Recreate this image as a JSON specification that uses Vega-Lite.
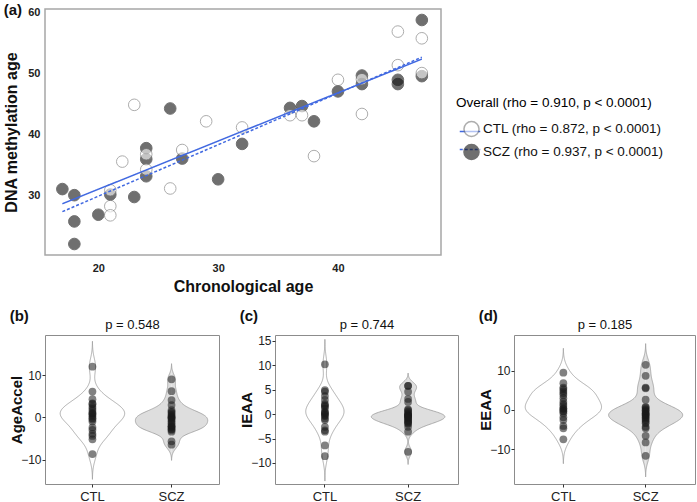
{
  "$schema": "https://vega.github.io/schema/vega-lite/v6.json",
  "padding": {"left": 3, "top": 2, "right": 0, "bottom": 0},
  "config": {
    "font": "Liberation Sans",
    "axis": {"labelColor": "#222222", "titleColor": "#111111", "grid": false},
    "title": {"color": "#111111"}
  },
  "datasets": {
    "scatter": [
      {"group": "SCZ", "age": 17, "dnam": 31.0}, {"group": "SCZ", "age": 18, "dnam": 30.0}, {"group": "SCZ", "age": 18, "dnam": 25.7}, {"group": "SCZ", "age": 18, "dnam": 22.0},
      {"group": "SCZ", "age": 20, "dnam": 26.8}, {"group": "SCZ", "age": 21, "dnam": 30.1}, {"group": "SCZ", "age": 23, "dnam": 29.7}, {"group": "SCZ", "age": 24, "dnam": 37.7},
      {"group": "SCZ", "age": 24, "dnam": 35.9}, {"group": "SCZ", "age": 24, "dnam": 33.1}, {"group": "SCZ", "age": 26, "dnam": 44.2}, {"group": "SCZ", "age": 27, "dnam": 36.0},
      {"group": "SCZ", "age": 30, "dnam": 32.6}, {"group": "SCZ", "age": 32, "dnam": 38.4}, {"group": "SCZ", "age": 36, "dnam": 44.3}, {"group": "SCZ", "age": 37, "dnam": 44.6},
      {"group": "SCZ", "age": 38, "dnam": 42.1}, {"group": "SCZ", "age": 40, "dnam": 47.0}, {"group": "SCZ", "age": 42, "dnam": 49.6}, {"group": "SCZ", "age": 42, "dnam": 48.2},
      {"group": "SCZ", "age": 45, "dnam": 48.9}, {"group": "SCZ", "age": 45, "dnam": 48.2}, {"group": "SCZ", "age": 47, "dnam": 58.7}, {"group": "SCZ", "age": 47, "dnam": 49.5},
      {"group": "CTL", "age": 21, "dnam": 28.2}, {"group": "CTL", "age": 21, "dnam": 26.7}, {"group": "CTL", "age": 21, "dnam": 30.8}, {"group": "CTL", "age": 22, "dnam": 35.5},
      {"group": "CTL", "age": 23, "dnam": 44.8}, {"group": "CTL", "age": 24, "dnam": 36.7}, {"group": "CTL", "age": 24, "dnam": 34.2}, {"group": "CTL", "age": 26, "dnam": 31.1},
      {"group": "CTL", "age": 27, "dnam": 37.4}, {"group": "CTL", "age": 29, "dnam": 42.1}, {"group": "CTL", "age": 32, "dnam": 41.1}, {"group": "CTL", "age": 36, "dnam": 43.1},
      {"group": "CTL", "age": 37, "dnam": 43.1}, {"group": "CTL", "age": 38, "dnam": 36.4}, {"group": "CTL", "age": 40, "dnam": 48.9}, {"group": "CTL", "age": 42, "dnam": 43.3},
      {"group": "CTL", "age": 42, "dnam": 49.0}, {"group": "CTL", "age": 45, "dnam": 56.8}, {"group": "CTL", "age": 45, "dnam": 51.3}, {"group": "CTL", "age": 47, "dnam": 55.7},
      {"group": "CTL", "age": 47, "dnam": 50.0}
    ],
    "fits": [
      {"fit": "CTL", "age": 17, "dnam": 28.6}, {"fit": "CTL", "age": 47, "dnam": 52.3},
      {"fit": "SCZ", "age": 17, "dnam": 27.3}, {"fit": "SCZ", "age": 47, "dnam": 52.6}
    ],
    "accel": [
      {"metric": "AgeAccel", "group": "CTL", "value": 12.0}, {"metric": "AgeAccel", "group": "CTL", "value": 6.1}, {"metric": "AgeAccel", "group": "CTL", "value": 4.3},
      {"metric": "AgeAccel", "group": "CTL", "value": 3.3}, {"metric": "AgeAccel", "group": "CTL", "value": 3.1}, {"metric": "AgeAccel", "group": "CTL", "value": 2.0},
      {"metric": "AgeAccel", "group": "CTL", "value": 1.5}, {"metric": "AgeAccel", "group": "CTL", "value": 0.9}, {"metric": "AgeAccel", "group": "CTL", "value": 0.6},
      {"metric": "AgeAccel", "group": "CTL", "value": 0.2}, {"metric": "AgeAccel", "group": "CTL", "value": -0.2}, {"metric": "AgeAccel", "group": "CTL", "value": -1.0},
      {"metric": "AgeAccel", "group": "CTL", "value": -2.4}, {"metric": "AgeAccel", "group": "CTL", "value": -3.0}, {"metric": "AgeAccel", "group": "CTL", "value": -3.9},
      {"metric": "AgeAccel", "group": "CTL", "value": -4.4}, {"metric": "AgeAccel", "group": "CTL", "value": -5.2}, {"metric": "AgeAccel", "group": "CTL", "value": -8.7},
      {"metric": "AgeAccel", "group": "CTL", "value": 1.0}, {"metric": "AgeAccel", "group": "CTL", "value": 2.5}, {"metric": "AgeAccel", "group": "CTL", "value": -0.5},
      {"metric": "AgeAccel", "group": "SCZ", "value": 9.0}, {"metric": "AgeAccel", "group": "SCZ", "value": 6.2}, {"metric": "AgeAccel", "group": "SCZ", "value": 4.1},
      {"metric": "AgeAccel", "group": "SCZ", "value": 2.9}, {"metric": "AgeAccel", "group": "SCZ", "value": 1.7}, {"metric": "AgeAccel", "group": "SCZ", "value": 1.3},
      {"metric": "AgeAccel", "group": "SCZ", "value": 0.6}, {"metric": "AgeAccel", "group": "SCZ", "value": 0.0}, {"metric": "AgeAccel", "group": "SCZ", "value": 0.0},
      {"metric": "AgeAccel", "group": "SCZ", "value": -0.6}, {"metric": "AgeAccel", "group": "SCZ", "value": -1.4}, {"metric": "AgeAccel", "group": "SCZ", "value": -2.2},
      {"metric": "AgeAccel", "group": "SCZ", "value": -2.2}, {"metric": "AgeAccel", "group": "SCZ", "value": -2.8}, {"metric": "AgeAccel", "group": "SCZ", "value": -3.0},
      {"metric": "AgeAccel", "group": "SCZ", "value": -3.4}, {"metric": "AgeAccel", "group": "SCZ", "value": -5.7}, {"metric": "AgeAccel", "group": "SCZ", "value": -6.5},
      {"metric": "AgeAccel", "group": "SCZ", "value": -1.0}, {"metric": "AgeAccel", "group": "SCZ", "value": 0.3}, {"metric": "AgeAccel", "group": "SCZ", "value": -2.5},
      {"metric": "AgeAccel", "group": "SCZ", "value": -0.3}, {"metric": "AgeAccel", "group": "SCZ", "value": 1.0}, {"metric": "AgeAccel", "group": "SCZ", "value": -1.8},
      {"metric": "IEAA", "group": "CTL", "value": 10.2}, {"metric": "IEAA", "group": "CTL", "value": 4.6}, {"metric": "IEAA", "group": "CTL", "value": 4.9},
      {"metric": "IEAA", "group": "CTL", "value": 3.7}, {"metric": "IEAA", "group": "CTL", "value": 2.9}, {"metric": "IEAA", "group": "CTL", "value": 2.1},
      {"metric": "IEAA", "group": "CTL", "value": 1.6}, {"metric": "IEAA", "group": "CTL", "value": 1.2}, {"metric": "IEAA", "group": "CTL", "value": 0.5},
      {"metric": "IEAA", "group": "CTL", "value": 0.1}, {"metric": "IEAA", "group": "CTL", "value": -0.4}, {"metric": "IEAA", "group": "CTL", "value": -0.9},
      {"metric": "IEAA", "group": "CTL", "value": -1.2}, {"metric": "IEAA", "group": "CTL", "value": -2.6}, {"metric": "IEAA", "group": "CTL", "value": -3.3},
      {"metric": "IEAA", "group": "CTL", "value": -3.6}, {"metric": "IEAA", "group": "CTL", "value": -6.4}, {"metric": "IEAA", "group": "CTL", "value": -8.6},
      {"metric": "IEAA", "group": "CTL", "value": 0.3}, {"metric": "IEAA", "group": "CTL", "value": -0.2}, {"metric": "IEAA", "group": "CTL", "value": 1.8},
      {"metric": "IEAA", "group": "SCZ", "value": 5.8}, {"metric": "IEAA", "group": "SCZ", "value": 5.8}, {"metric": "IEAA", "group": "SCZ", "value": 4.6},
      {"metric": "IEAA", "group": "SCZ", "value": 3.1}, {"metric": "IEAA", "group": "SCZ", "value": 2.5}, {"metric": "IEAA", "group": "SCZ", "value": 0.8},
      {"metric": "IEAA", "group": "SCZ", "value": 0.5}, {"metric": "IEAA", "group": "SCZ", "value": 0.0}, {"metric": "IEAA", "group": "SCZ", "value": -0.2},
      {"metric": "IEAA", "group": "SCZ", "value": -0.4}, {"metric": "IEAA", "group": "SCZ", "value": -0.7}, {"metric": "IEAA", "group": "SCZ", "value": -1.1},
      {"metric": "IEAA", "group": "SCZ", "value": -1.4}, {"metric": "IEAA", "group": "SCZ", "value": -1.8}, {"metric": "IEAA", "group": "SCZ", "value": -2.6},
      {"metric": "IEAA", "group": "SCZ", "value": -3.6}, {"metric": "IEAA", "group": "SCZ", "value": -7.7}, {"metric": "IEAA", "group": "SCZ", "value": -0.3},
      {"metric": "IEAA", "group": "SCZ", "value": 0.2}, {"metric": "IEAA", "group": "SCZ", "value": -0.9}, {"metric": "IEAA", "group": "SCZ", "value": -1.6},
      {"metric": "IEAA", "group": "SCZ", "value": 1.0}, {"metric": "IEAA", "group": "SCZ", "value": -0.5}, {"metric": "IEAA", "group": "SCZ", "value": -2.0},
      {"metric": "EEAA", "group": "CTL", "value": 9.5}, {"metric": "EEAA", "group": "CTL", "value": 6.8}, {"metric": "EEAA", "group": "CTL", "value": 5.7},
      {"metric": "EEAA", "group": "CTL", "value": 5.3}, {"metric": "EEAA", "group": "CTL", "value": 4.3}, {"metric": "EEAA", "group": "CTL", "value": 3.8},
      {"metric": "EEAA", "group": "CTL", "value": 3.0}, {"metric": "EEAA", "group": "CTL", "value": 2.1}, {"metric": "EEAA", "group": "CTL", "value": 1.0},
      {"metric": "EEAA", "group": "CTL", "value": 0.4}, {"metric": "EEAA", "group": "CTL", "value": 0.2}, {"metric": "EEAA", "group": "CTL", "value": -0.4},
      {"metric": "EEAA", "group": "CTL", "value": -0.9}, {"metric": "EEAA", "group": "CTL", "value": -1.9}, {"metric": "EEAA", "group": "CTL", "value": -2.6},
      {"metric": "EEAA", "group": "CTL", "value": -4.1}, {"metric": "EEAA", "group": "CTL", "value": -4.7}, {"metric": "EEAA", "group": "CTL", "value": -7.5},
      {"metric": "EEAA", "group": "CTL", "value": 1.5}, {"metric": "EEAA", "group": "CTL", "value": -0.2}, {"metric": "EEAA", "group": "CTL", "value": 4.8},
      {"metric": "EEAA", "group": "SCZ", "value": 11.5}, {"metric": "EEAA", "group": "SCZ", "value": 8.7}, {"metric": "EEAA", "group": "SCZ", "value": 5.5},
      {"metric": "EEAA", "group": "SCZ", "value": 5.7}, {"metric": "EEAA", "group": "SCZ", "value": 2.6}, {"metric": "EEAA", "group": "SCZ", "value": 0.6},
      {"metric": "EEAA", "group": "SCZ", "value": 0.2}, {"metric": "EEAA", "group": "SCZ", "value": -0.4}, {"metric": "EEAA", "group": "SCZ", "value": -0.9},
      {"metric": "EEAA", "group": "SCZ", "value": -1.5}, {"metric": "EEAA", "group": "SCZ", "value": -1.9}, {"metric": "EEAA", "group": "SCZ", "value": -2.6},
      {"metric": "EEAA", "group": "SCZ", "value": -3.4}, {"metric": "EEAA", "group": "SCZ", "value": -4.3}, {"metric": "EEAA", "group": "SCZ", "value": -4.7},
      {"metric": "EEAA", "group": "SCZ", "value": -6.6}, {"metric": "EEAA", "group": "SCZ", "value": -8.3}, {"metric": "EEAA", "group": "SCZ", "value": -11.7},
      {"metric": "EEAA", "group": "SCZ", "value": -1.0}, {"metric": "EEAA", "group": "SCZ", "value": 0.8}, {"metric": "EEAA", "group": "SCZ", "value": -2.2},
      {"metric": "EEAA", "group": "SCZ", "value": -3.0}, {"metric": "EEAA", "group": "SCZ", "value": -0.1}, {"metric": "EEAA", "group": "SCZ", "value": -1.3}
    ]
  },
  "columns": 1,
  "align": "none",
  "spacing": 13,
  "concat": [
    {
      "title": {"text": "(a)", "anchor": "start", "frame": "bounds", "fontSize": 15, "fontWeight": "bold", "offset": -12},
      "width": 396,
      "height": 246,
      "view": {"stroke": "#a6a6a6", "strokeWidth": 1.5},
      "encoding": {
        "x": {"field": "age", "type": "quantitative", "scale": {"domain": [15.55, 48.6], "nice": false, "zero": false},
              "axis": {"values": [20, 30, 40], "title": "Chronological age", "ticks": false, "domain": false, "labelFontWeight": "bold", "labelFontSize": 11, "labelPadding": 7, "titleFontSize": 16, "titleFontWeight": "bold", "titlePadding": 5}},
        "y": {"field": "dnam", "type": "quantitative", "scale": {"domain": [20.2, 60.5], "nice": false, "zero": false},
              "axis": {"values": [30, 40, 50, 60], "title": "DNA methylation age", "ticks": false, "domain": false, "labelFontWeight": "bold", "labelFontSize": 11, "labelPadding": 5, "titleFontSize": 16, "titleFontWeight": "bold", "titlePadding": 8}}
      },
      "layer": [
        {
          "data": {"name": "scatter"},
          "transform": [{"filter": "datum.group == 'SCZ'"}],
          "mark": {"type": "circle", "size": 135, "opacity": 0.6, "strokeWidth": 1},
          "encoding": {
            "fill": {"field": "group", "type": "nominal", "scale": {"domain": ["CTL", "SCZ"], "range": ["#ffffff", "#111111"]},
                     "legend": {"orient": "none", "legendX": 411, "legendY": 87, "title": "Overall (rho = 0.910, p < 0.0001)", "titleFontSize": 13.5, "titleFontWeight": "normal", "titlePadding": 11, "titleLimit": 400, "labelLimit": 400, "labelFontSize": 13.5, "labelColor": "#111111", "labelExpr": "datum.label == 'CTL' ? 'CTL (rho = 0.872, p < 0.0001)' : 'SCZ (rho = 0.937, p < 0.0001)'", "symbolSize": 227, "symbolOffset": 7, "labelOffset": 3, "rowPadding": 0, "padding": 0, "zindex": 2}},
            "stroke": {"field": "group", "type": "nominal", "scale": {"domain": ["CTL", "SCZ"], "range": ["#777777", "#111111"]},
                     "legend": {"orient": "none", "legendX": 411, "legendY": 87, "title": "Overall (rho = 0.910, p < 0.0001)", "titleFontSize": 13.5, "titleFontWeight": "normal", "titlePadding": 11, "titleLimit": 400, "labelLimit": 400, "labelFontSize": 13.5, "labelColor": "#111111", "labelExpr": "datum.label == 'CTL' ? 'CTL (rho = 0.872, p < 0.0001)' : 'SCZ (rho = 0.937, p < 0.0001)'", "symbolSize": 227, "symbolOffset": 7, "labelOffset": 3, "rowPadding": 0, "padding": 0, "zindex": 2}}
          }
        },
        {
          "data": {"name": "scatter"},
          "transform": [{"filter": "datum.group == 'CTL'"}],
          "mark": {"type": "circle", "size": 135, "opacity": 0.6, "strokeWidth": 1},
          "encoding": {
            "fill": {"field": "group", "type": "nominal"},
            "stroke": {"field": "group", "type": "nominal"}
          }
        },
        {
          "data": {"name": "fits"},
          "mark": {"type": "line", "color": "#4169e1", "strokeWidth": 1.5},
          "encoding": {
            "strokeDash": {"field": "fit", "type": "nominal", "scale": {"domain": ["SCZ", "CTL"], "range": [[3, 2], [1, 0]]},
                           "legend": {"orient": "none", "legendX": 409, "legendY": 87, "values": ["CTL", "SCZ"], "title": " ", "titleFontSize": 13.5, "titleFontWeight": "normal", "titleOpacity": 0, "titlePadding": 11, "labelFontSize": 13.5, "labelOpacity": 0, "labelExpr": "' '", "symbolType": "stroke", "symbolSize": 420, "symbolStrokeColor": "#4169e1", "symbolStrokeWidth": 1.5, "symbolOffset": 5, "labelOffset": 3, "rowPadding": 0, "padding": 0, "zindex": 1}}
          }
        }
      ]
    },
    {
      "spacing": 19,
      "hconcat": [
        {
          "title": {"text": "(b)", "anchor": "start", "frame": "bounds", "fontSize": 15, "fontWeight": "bold", "offset": -6},
          "width": 174,
          "height": 149,
          "view": {"stroke": "#8c8c8c", "strokeWidth": 1},
          "data": {"name": "accel"},
          "transform": [{"filter": "datum.metric == 'AgeAccel'"}],
          "resolve": {"scale": {"x": "independent"}, "axis": {"x": "independent"}},
          "encoding": {
            "y": {"field": "value", "type": "quantitative", "scale": {"domain": [-15.8, 19.5], "nice": false, "zero": false},
                  "axis": {"values": [-10, 0, 10], "title": "AgeAccel", "titleFontSize": 15, "titleFontWeight": "bold", "labelFontSize": 12, "tickSize": 3, "tickColor": "#333333", "domain": false, "labelPadding": 1, "titlePadding": -4}}
          },
          "layer": [
            {"transform": [{"filter": "datum.group == 'SCZ'"}, {"density": "value", "bandwidth": 1.24, "extent": [-10.2, 12.7], "steps": 200, "as": ["value", "density"]}],
             "mark": {"type": "area", "orient": "horizontal", "fill": "#dedede"},
             "encoding": {"x": {"field": "density", "type": "quantitative", "stack": null, "scale": {"domain": [-0.474, 0.1777], "nice": false, "zero": false}, "axis": null}, "x2": {"datum": 0}}},
            {"transform": [{"filter": "datum.group == 'SCZ'"}, {"density": "value", "bandwidth": 1.24, "extent": [-10.2, 12.7], "steps": 200, "as": ["value", "density"]}],
             "mark": {"type": "area", "orient": "horizontal", "fill": "#dedede"},
             "encoding": {"x": {"field": "density", "type": "quantitative", "stack": null, "scale": {"domain": [-0.1777, 0.474], "reverse": true, "nice": false, "zero": false}, "axis": null}, "x2": {"datum": 0}}},
            {"transform": [{"filter": "datum.group == 'SCZ'"}, {"density": "value", "bandwidth": 1.24, "extent": [-10.2, 12.7], "steps": 200, "as": ["value", "density"]}],
             "mark": {"type": "line", "color": "#9a9a9a", "strokeWidth": 0.8},
             "encoding": {"x": {"field": "density", "type": "quantitative", "scale": {"domain": [-0.474, 0.1777], "nice": false, "zero": false}, "axis": null}, "order": {"field": "value", "type": "quantitative"}}},
            {"transform": [{"filter": "datum.group == 'SCZ'"}, {"density": "value", "bandwidth": 1.24, "extent": [-10.2, 12.7], "steps": 200, "as": ["value", "density"]}],
             "mark": {"type": "line", "color": "#9a9a9a", "strokeWidth": 0.8},
             "encoding": {"x": {"field": "density", "type": "quantitative", "scale": {"domain": [-0.1777, 0.474], "reverse": true, "nice": false, "zero": false}, "axis": null}, "order": {"field": "value", "type": "quantitative"}}},
            {"transform": [{"filter": "datum.group == 'CTL'"}, {"density": "value", "bandwidth": 2.0, "extent": [-14.7, 18], "steps": 200, "as": ["value", "density"]}],
             "mark": {"type": "line", "color": "#9a9a9a", "strokeWidth": 0.8},
             "encoding": {"x": {"field": "density", "type": "quantitative", "scale": {"domain": [-0.1475, 0.3935], "nice": false, "zero": false},
                                "axis": {"orient": "top", "title": "p = 0.548", "labels": false, "ticks": false, "domain": false, "titleFontSize": 13, "titleFontWeight": "normal", "titlePadding": 4}},
                          "order": {"field": "value", "type": "quantitative"}}},
            {"transform": [{"filter": "datum.group == 'CTL'"}, {"density": "value", "bandwidth": 2.0, "extent": [-14.7, 18], "steps": 200, "as": ["value", "density"]}],
             "mark": {"type": "line", "color": "#9a9a9a", "strokeWidth": 0.8},
             "encoding": {"x": {"field": "density", "type": "quantitative", "scale": {"domain": [-0.3935, 0.1475], "reverse": true, "nice": false, "zero": false}, "axis": null}, "order": {"field": "value", "type": "quantitative"}}},
            {"mark": {"type": "circle", "size": 60, "color": "#1a1a1a", "opacity": 0.55},
             "encoding": {"x": {"field": "group", "type": "nominal", "scale": {"type": "band", "domain": ["CTL", "SCZ"], "paddingInner": 0.9, "paddingOuter": 0.55},
                                "axis": {"title": null, "labelAngle": 0, "labelFontSize": 13, "domain": false, "tickSize": 3, "tickColor": "#333333", "labelPadding": 3}}}}
          ]
        },
        {
          "title": {"text": "(c)", "anchor": "start", "frame": "bounds", "fontSize": 15, "fontWeight": "bold", "offset": -6},
          "width": 183,
          "height": 149,
          "view": {"stroke": "#8c8c8c", "strokeWidth": 1},
          "data": {"name": "accel"},
          "transform": [{"filter": "datum.metric == 'IEAA'"}],
          "resolve": {"scale": {"x": "independent"}, "axis": {"x": "independent"}},
          "encoding": {
            "y": {"field": "value", "type": "quantitative", "scale": {"domain": [-14.3, 16.2], "nice": false, "zero": false},
                  "axis": {"values": [-10, -5, 0, 5, 10, 15], "title": "IEAA", "titleFontSize": 15, "titleFontWeight": "bold", "labelFontSize": 12, "tickSize": 3, "tickColor": "#333333", "domain": false, "labelPadding": 1, "titlePadding": -4}}
          },
          "layer": [
            {"transform": [{"filter": "datum.group == 'SCZ'"}, {"density": "value", "bandwidth": 0.854, "extent": [-10.3, 8.4], "steps": 200, "as": ["value", "density"]}],
             "mark": {"type": "area", "orient": "horizontal", "fill": "#dedede"},
             "encoding": {"x": {"field": "density", "type": "quantitative", "stack": null, "scale": {"domain": [-0.7564, 0.2836], "nice": false, "zero": false}, "axis": null}, "x2": {"datum": 0}}},
            {"transform": [{"filter": "datum.group == 'SCZ'"}, {"density": "value", "bandwidth": 0.854, "extent": [-10.3, 8.4], "steps": 200, "as": ["value", "density"]}],
             "mark": {"type": "area", "orient": "horizontal", "fill": "#dedede"},
             "encoding": {"x": {"field": "density", "type": "quantitative", "stack": null, "scale": {"domain": [-0.2836, 0.7564], "reverse": true, "nice": false, "zero": false}, "axis": null}, "x2": {"datum": 0}}},
            {"transform": [{"filter": "datum.group == 'SCZ'"}, {"density": "value", "bandwidth": 0.854, "extent": [-10.3, 8.4], "steps": 200, "as": ["value", "density"]}],
             "mark": {"type": "line", "color": "#9a9a9a", "strokeWidth": 0.8},
             "encoding": {"x": {"field": "density", "type": "quantitative", "scale": {"domain": [-0.7564, 0.2836], "nice": false, "zero": false}, "axis": null}, "order": {"field": "value", "type": "quantitative"}}},
            {"transform": [{"filter": "datum.group == 'SCZ'"}, {"density": "value", "bandwidth": 0.854, "extent": [-10.3, 8.4], "steps": 200, "as": ["value", "density"]}],
             "mark": {"type": "line", "color": "#9a9a9a", "strokeWidth": 0.8},
             "encoding": {"x": {"field": "density", "type": "quantitative", "scale": {"domain": [-0.2836, 0.7564], "reverse": true, "nice": false, "zero": false}, "axis": null}, "order": {"field": "value", "type": "quantitative"}}},
            {"transform": [{"filter": "datum.group == 'CTL'"}, {"density": "value", "bandwidth": 1.71, "extent": [-13.7, 15.3], "steps": 200, "as": ["value", "density"]}],
             "mark": {"type": "line", "color": "#9a9a9a", "strokeWidth": 0.8},
             "encoding": {"x": {"field": "density", "type": "quantitative", "scale": {"domain": [-0.295, 0.787], "nice": false, "zero": false},
                                "axis": {"orient": "top", "title": "p = 0.744", "labels": false, "ticks": false, "domain": false, "titleFontSize": 13, "titleFontWeight": "normal", "titlePadding": 4}},
                          "order": {"field": "value", "type": "quantitative"}}},
            {"transform": [{"filter": "datum.group == 'CTL'"}, {"density": "value", "bandwidth": 1.71, "extent": [-13.7, 15.3], "steps": 200, "as": ["value", "density"]}],
             "mark": {"type": "line", "color": "#9a9a9a", "strokeWidth": 0.8},
             "encoding": {"x": {"field": "density", "type": "quantitative", "scale": {"domain": [-0.787, 0.295], "reverse": true, "nice": false, "zero": false}, "axis": null}, "order": {"field": "value", "type": "quantitative"}}},
            {"mark": {"type": "circle", "size": 60, "color": "#1a1a1a", "opacity": 0.55},
             "encoding": {"x": {"field": "group", "type": "nominal", "scale": {"type": "band", "domain": ["CTL", "SCZ"], "paddingInner": 0.9, "paddingOuter": 0.55},
                                "axis": {"title": null, "labelAngle": 0, "labelFontSize": 13, "domain": false, "tickSize": 3, "tickColor": "#333333", "labelPadding": 3}}}}
          ]
        },
        {
          "title": {"text": "(d)", "anchor": "start", "frame": "bounds", "fontSize": 15, "fontWeight": "bold", "offset": -6},
          "width": 181,
          "height": 149,
          "view": {"stroke": "#8c8c8c", "strokeWidth": 1},
          "data": {"name": "accel"},
          "transform": [{"filter": "datum.metric == 'EEAA'"}],
          "resolve": {"scale": {"x": "independent"}, "axis": {"x": "independent"}},
          "encoding": {
            "y": {"field": "value", "type": "quantitative", "scale": {"domain": [-18.9, 19.1], "nice": false, "zero": false},
                  "axis": {"values": [-10, 0, 10], "title": "EEAA", "titleFontSize": 15, "titleFontWeight": "bold", "labelFontSize": 12, "tickSize": 3, "tickColor": "#333333", "domain": false, "labelPadding": 1, "titlePadding": -4}}
          },
          "layer": [
            {"transform": [{"filter": "datum.group == 'SCZ'"}, {"density": "value", "bandwidth": 1.8, "extent": [-17.1, 16.9], "steps": 200, "as": ["value", "density"]}],
             "mark": {"type": "area", "orient": "horizontal", "fill": "#dedede"},
             "encoding": {"x": {"field": "density", "type": "quantitative", "stack": null, "scale": {"domain": [-0.384, 0.144], "nice": false, "zero": false}, "axis": null}, "x2": {"datum": 0}}},
            {"transform": [{"filter": "datum.group == 'SCZ'"}, {"density": "value", "bandwidth": 1.8, "extent": [-17.1, 16.9], "steps": 200, "as": ["value", "density"]}],
             "mark": {"type": "area", "orient": "horizontal", "fill": "#dedede"},
             "encoding": {"x": {"field": "density", "type": "quantitative", "stack": null, "scale": {"domain": [-0.144, 0.384], "reverse": true, "nice": false, "zero": false}, "axis": null}, "x2": {"datum": 0}}},
            {"transform": [{"filter": "datum.group == 'SCZ'"}, {"density": "value", "bandwidth": 1.8, "extent": [-17.1, 16.9], "steps": 200, "as": ["value", "density"]}],
             "mark": {"type": "line", "color": "#9a9a9a", "strokeWidth": 0.8},
             "encoding": {"x": {"field": "density", "type": "quantitative", "scale": {"domain": [-0.384, 0.144], "nice": false, "zero": false}, "axis": null}, "order": {"field": "value", "type": "quantitative"}}},
            {"transform": [{"filter": "datum.group == 'SCZ'"}, {"density": "value", "bandwidth": 1.8, "extent": [-17.1, 16.9], "steps": 200, "as": ["value", "density"]}],
             "mark": {"type": "line", "color": "#9a9a9a", "strokeWidth": 0.8},
             "encoding": {"x": {"field": "density", "type": "quantitative", "scale": {"domain": [-0.144, 0.384], "reverse": true, "nice": false, "zero": false}, "axis": null}, "order": {"field": "value", "type": "quantitative"}}},
            {"transform": [{"filter": "datum.group == 'CTL'"}, {"density": "value", "bandwidth": 2.06, "extent": [-13.7, 15.7], "steps": 200, "as": ["value", "density"]}],
             "mark": {"type": "line", "color": "#9a9a9a", "strokeWidth": 0.8},
             "encoding": {"x": {"field": "density", "type": "quantitative", "scale": {"domain": [-0.1119, 0.2983], "nice": false, "zero": false},
                                "axis": {"orient": "top", "title": "p = 0.185", "labels": false, "ticks": false, "domain": false, "titleFontSize": 13, "titleFontWeight": "normal", "titlePadding": 4}},
                          "order": {"field": "value", "type": "quantitative"}}},
            {"transform": [{"filter": "datum.group == 'CTL'"}, {"density": "value", "bandwidth": 2.06, "extent": [-13.7, 15.7], "steps": 200, "as": ["value", "density"]}],
             "mark": {"type": "line", "color": "#9a9a9a", "strokeWidth": 0.8},
             "encoding": {"x": {"field": "density", "type": "quantitative", "scale": {"domain": [-0.2983, 0.1119], "reverse": true, "nice": false, "zero": false}, "axis": null}, "order": {"field": "value", "type": "quantitative"}}},
            {"mark": {"type": "circle", "size": 60, "color": "#1a1a1a", "opacity": 0.55},
             "encoding": {"x": {"field": "group", "type": "nominal", "scale": {"type": "band", "domain": ["CTL", "SCZ"], "paddingInner": 0.9, "paddingOuter": 0.55},
                                "axis": {"title": null, "labelAngle": 0, "labelFontSize": 13, "domain": false, "tickSize": 3, "tickColor": "#333333", "labelPadding": 3}}}}
          ]
        }
      ]
    }
  ]
}
